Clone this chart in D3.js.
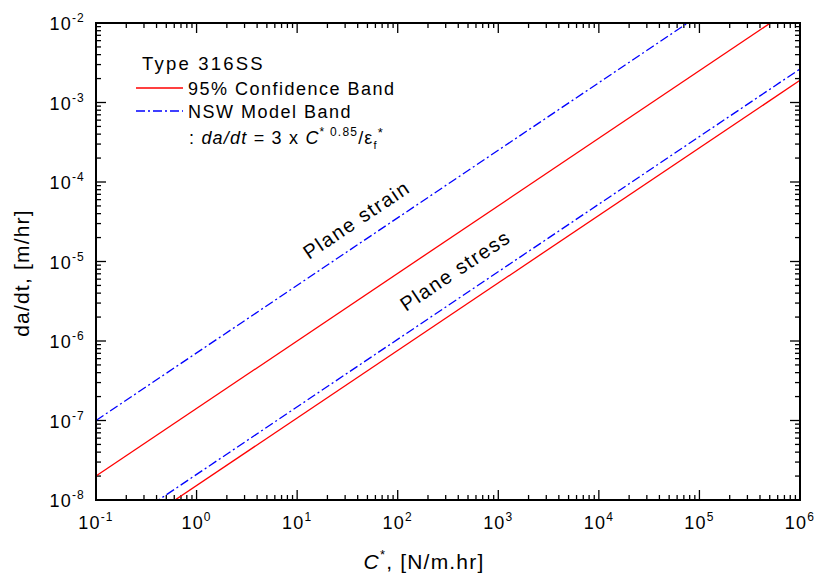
<!DOCTYPE html>
<html><head><meta charset="utf-8">
<script src="https://cdn.jsdelivr.net/npm/d3@7"></script>
<style>
body{margin:0;background:#fff;}
text{font-family:"Liberation Sans",Arial,sans-serif;fill:#000;}
</style></head>
<body>
<svg id="c" width="815" height="576"></svg>
<script>
// ---- data ----
const cStar      = [0.1, 1e6];           // C*, N/m.hr
const redUpper   = [2.0e-8, 1.78e-2];    // 95% confidence band, upper
const redLower   = [2.15e-9, 1.9e-3];    // 95% confidence band, lower
const blueUpper  = [1.0e-7, 8.9e-2];     // NSW model, plane strain
const blueLower  = [2.96e-9, 2.64e-3];   // NSW model, plane stress
const xTickExp = [-1,0,1,2,3,4,5,6];
const yTickExp = [-8,-7,-6,-5,-4,-3,-2];

const svg = d3.select("#c");
const L=96, R=800, T=23, B=500;
const x = d3.scaleLog().domain([0.1,1e6]).range([L,R]);
const y = d3.scaleLog().domain([1e-8,1e-2]).range([B,T]);

svg.append("defs").append("clipPath").attr("id","clip")
  .append("rect").attr("x",L).attr("y",T).attr("width",R-L).attr("height",B-T);

function minors(dom){
  const out=[]; const lo=Math.round(Math.log10(dom[0])), hi=Math.round(Math.log10(dom[1]));
  for(let e=lo;e<hi;e++) for(let m=2;m<=9;m++) out.push(m*Math.pow(10,e));
  return out;
}
const g = svg.append("g").attr("stroke","#000").attr("stroke-width",1.3);
const xMaj = xTickExp.map(e=>Math.pow(10,e)), yMaj = yTickExp.map(e=>Math.pow(10,e));
const xMin = minors(x.domain()), yMin = minors(y.domain());
function tickX(vals,len){
  vals.forEach(v=>{
    g.append("line").attr("x1",x(v)).attr("x2",x(v)).attr("y1",B).attr("y2",B-len);
    g.append("line").attr("x1",x(v)).attr("x2",x(v)).attr("y1",T).attr("y2",T+len);
  });
}
function tickY(vals,len){
  vals.forEach(v=>{
    g.append("line").attr("y1",y(v)).attr("y2",y(v)).attr("x1",L).attr("x2",L+len);
    g.append("line").attr("y1",y(v)).attr("y2",y(v)).attr("x1",R).attr("x2",R-len);
  });
}
tickX(xMaj,10); tickX(xMin,5); tickY(yMaj,10); tickY(yMin,5);

const line = d3.line().x(d=>x(d[0])).y(d=>y(d[1]));
const lines = svg.append("g").attr("clip-path","url(#clip)").attr("fill","none");
function draw(vals,color,dash){
  const p = lines.append("path").datum(cStar.map((c,i)=>[c,vals[i]]))
    .attr("d",line).attr("stroke",color).attr("stroke-width",1.3);
  if(dash) p.attr("stroke-dasharray",dash);
}
draw(redUpper,"#ff0000");
draw(redLower,"#ff0000");
draw(blueUpper,"#0000ff","9,3,2,3");
draw(blueLower,"#0000ff","9,3,2,3");

svg.append("rect").attr("x",L).attr("y",T).attr("width",R-L).attr("height",B-T)
  .attr("fill","none").attr("stroke","#000").attr("stroke-width",2);

const ls="1.2px";
xTickExp.forEach(e=>{
  const t=svg.append("text").attr("x",x(Math.pow(10,e))).attr("y",529)
    .attr("text-anchor","middle").attr("font-size",18).attr("letter-spacing",ls);
  t.append("tspan").text("10");
  t.append("tspan").attr("dy",-8).attr("font-size",12).text(e);
});
yTickExp.forEach(e=>{
  const t=svg.append("text").attr("x",85).attr("y",y(Math.pow(10,e))+7)
    .attr("text-anchor","end").attr("font-size",18).attr("letter-spacing",ls);
  t.append("tspan").text("10");
  t.append("tspan").attr("dy",-8).attr("font-size",12).text(e);
});

svg.append("text").attr("transform","translate(29,273) rotate(-90)")
  .attr("text-anchor","middle").attr("font-size",21).attr("letter-spacing","1.2px")
  .text("da/dt, [m/hr]");
const xt=svg.append("text").attr("x",424).attr("y",569).attr("text-anchor","middle")
  .attr("font-size",21).attr("letter-spacing","1.2px");
xt.append("tspan").attr("font-style","italic").text("C");
xt.append("tspan").attr("dy",-10).attr("font-size",13).text("*");
xt.append("tspan").attr("dy",10).text(", [N/m.hr]");

const lg=svg.append("g");
lg.append("text").attr("x",142).attr("y",70).attr("font-size",18.5).attr("letter-spacing","2.2px").text("Type 316SS");
lg.append("line").attr("x1",136).attr("x2",183).attr("y1",88).attr("y2",88).attr("stroke","#ff0000").attr("stroke-width",1.3);
lg.append("text").attr("x",188).attr("y",95).attr("font-size",18).attr("letter-spacing","1.5px").text("95% Confidence Band");
lg.append("line").attr("x1",136).attr("x2",183).attr("y1",111).attr("y2",111).attr("stroke","#0000ff").attr("stroke-width",1.3).attr("stroke-dasharray","9,3,2,3");
lg.append("text").attr("x",188).attr("y",118).attr("font-size",18).attr("letter-spacing","1.5px").text("NSW Model Band");
const f=lg.append("text").attr("x",189).attr("y",144).attr("font-size",18).attr("letter-spacing",ls);
f.append("tspan").text(": ");
f.append("tspan").attr("font-style","italic").text("da/dt");
f.append("tspan").text(" = 3 x ");
f.append("tspan").attr("font-style","italic").text("C");
f.append("tspan").attr("dy",-8).attr("font-size",12).text("* 0.85");
f.append("tspan").attr("dy",8).text("/ε");
f.append("tspan").attr("dy",5).attr("font-size",11).text("f");
f.append("tspan").attr("dy",-12).attr("font-size",13).text("*");

const ang = -Math.atan2(0.85*(B-T)/6,(R-L)/7)*180/Math.PI;
svg.append("text").attr("transform",`translate(309,260) rotate(${ang})`)
  .attr("font-size",20).attr("letter-spacing","1.5px").text("Plane strain");
svg.append("text").attr("transform",`translate(406,312) rotate(${ang})`)
  .attr("font-size",20).attr("letter-spacing","1.5px").text("Plane stress");
</script>
</body></html>
